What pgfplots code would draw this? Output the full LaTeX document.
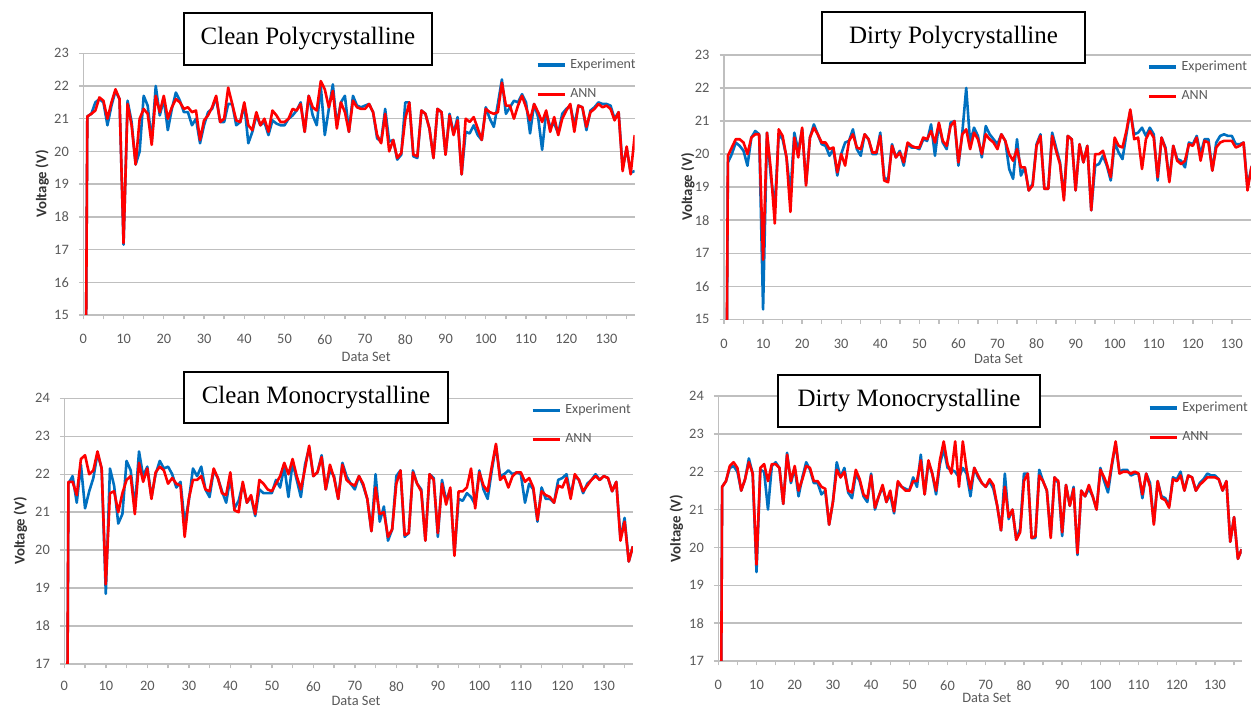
\documentclass[border=0pt]{standalone}
\usepackage{fontspec}
\setmainfont{Carlito}
\newfontfamily\titlefont{Liberation Serif}
\usepackage{pgfplots}
\usepackage{pgfplotstable}
\pgfplotsset{compat=1.18}

\definecolor{expc}{RGB}{0,112,192}
\definecolor{annc}{RGB}{255,0,0}
\definecolor{gridc}{RGB}{191,191,191}
\definecolor{tickc}{RGB}{89,89,89}

% clean polycrystalline
\pgfplotstableread{
x exp ann
0 0 0
1 21.07 21.07
2 21.15 21.15
3 21.5 21.25
4 21.6 21.65
5 21.5 21.55
6 20.8 21.0
7 21.4 21.5
8 21.85 21.9
9 21.6 21.6
10 17.15 17.2
11 21.55 21.45
12 20.9 20.8
13 19.6 19.6
14 20.0 21.0
15 21.7 21.3
16 21.4 21.15
17 20.3 20.2
18 22.0 21.7
19 21.1 21.2
20 21.6 21.7
21 20.65 21.0
22 21.3 21.35
23 21.8 21.6
24 21.55 21.5
25 21.2 21.3
26 21.2 21.35
27 20.8 21.2
28 21.0 21.25
29 20.25 20.35
30 20.8 20.95
31 21.2 21.1
32 21.3 21.35
33 21.65 21.7
34 20.9 20.9
35 20.9 21.0
36 21.45 21.95
37 21.45 21.45
38 20.8 20.95
39 20.9 20.9
40 21.45 21.5
41 20.25 20.8
42 20.6 20.65
43 21.1 21.2
44 20.8 20.8
45 20.9 21.0
46 20.5 20.6
47 20.95 21.25
48 20.85 21.1
49 20.8 20.9
50 20.8 20.9
51 21.0 21.0
52 21.1 21.3
53 21.25 21.25
54 21.5 21.45
55 20.6 20.6
56 21.7 21.7
57 21.1 21.35
58 20.8 21.25
59 22.0 22.15
60 20.5 21.9
61 21.3 21.35
62 22.05 21.85
63 20.8 20.7
64 21.5 21.5
65 21.7 21.2
66 20.6 20.6
67 21.7 21.55
68 21.4 21.35
69 21.35 21.3
70 21.4 21.3
71 21.45 21.45
72 21.2 21.2
73 20.4 20.5
74 20.3 20.25
75 21.3 21.15
76 20.3 20.0
77 20.35 20.35
78 19.75 19.8
79 19.9 19.95
80 21.5 21.0
81 21.5 21.5
82 19.85 19.9
83 19.8 19.85
84 21.25 21.25
85 21.15 21.15
86 20.7 20.7
87 19.8 19.8
88 21.3 21.3
89 21.2 21.2
90 19.9 19.9
91 21.15 21.1
92 20.55 20.5
93 21.05 20.95
94 19.3 19.3
95 20.6 21.0
96 20.55 20.9
97 20.8 21.05
98 20.5 20.7
99 20.35 20.35
100 21.35 21.3
101 21.0 21.2
102 20.75 21.15
103 21.45 21.2
104 22.2 22.1
105 21.15 21.4
106 21.35 21.4
107 21.55 21.0
108 21.5 21.4
109 21.75 21.7
110 21.5 21.35
111 20.55 20.95
112 21.45 21.45
113 21.05 21.2
114 20.05 20.9
115 21.2 21.25
116 20.75 20.6
117 20.85 21.05
118 20.55 20.5
119 21.15 21.0
120 21.3 21.25
121 21.4 21.45
122 20.8 20.6
123 21.4 21.4
124 21.35 21.35
125 20.65 20.75
126 21.25 21.2
127 21.35 21.3
128 21.5 21.45
129 21.45 21.35
130 21.45 21.4
131 21.4 21.3
132 21.0 20.95
133 21.2 21.2
134 19.5 19.4
135 20.1 20.15
136 19.35 19.3
137 19.4 20.5
}\cleanpoly

% dirty polycrystalline
\pgfplotstableread{
x exp ann
0 0 0
1 19.75 19.95
2 20.0 20.2
3 20.35 20.45
4 20.25 20.45
5 20.1 20.35
6 19.65 20.0
7 20.5 20.5
8 20.7 20.6
9 20.6 20.6
10 15.3 16.8
11 20.65 20.65
12 19.3 19.5
13 18.4 17.9
14 20.6 20.75
15 20.45 20.55
16 19.9 19.9
17 18.8 18.25
18 20.65 20.5
19 20.1 19.9
20 20.75 20.8
21 19.1 19.05
22 20.5 20.5
23 20.9 20.8
24 20.6 20.6
25 20.3 20.35
26 20.25 20.35
27 19.95 20.15
28 20.15 20.2
29 19.35 19.45
30 20.0 20.0
31 20.35 19.65
32 20.4 20.4
33 20.75 20.6
34 20.15 20.2
35 19.95 20.15
36 20.6 20.6
37 20.45 20.45
38 20.0 20.05
39 20.0 20.05
40 20.65 20.55
41 19.3 19.2
42 19.2 19.15
43 20.3 20.25
44 19.9 19.9
45 20.1 20.05
46 19.65 19.75
47 20.3 20.35
48 20.2 20.25
49 20.2 20.2
50 20.15 20.2
51 20.45 20.5
52 20.4 20.45
53 20.9 20.7
54 19.95 20.35
55 20.9 20.95
56 20.35 20.4
57 20.15 20.25
58 20.95 20.85
59 21.0 21.0
60 19.65 19.75
61 20.65 20.6
62 22.0 20.75
63 20.35 20.15
64 20.8 20.65
65 20.55 20.45
66 19.9 20.0
67 20.85 20.6
68 20.6 20.45
69 20.45 20.35
70 20.3 20.15
71 20.6 20.6
72 20.4 20.4
73 19.55 20.0
74 19.25 19.8
75 20.45 20.15
76 19.35 19.6
77 19.6 19.6
78 18.9 18.9
79 19.1 19.05
80 20.3 20.25
81 20.6 20.55
82 18.95 18.95
83 18.95 18.95
84 20.65 20.55
85 20.2 20.1
86 19.75 19.7
87 18.7 18.6
88 20.55 20.55
89 20.45 20.45
90 18.9 18.9
91 20.3 20.3
92 19.75 19.75
93 20.25 20.25
94 18.3 18.3
95 19.65 20.0
96 19.7 20.0
97 19.95 20.1
98 19.65 19.7
99 19.2 19.3
100 20.35 20.5
101 20.05 20.25
102 19.85 20.2
103 20.6 20.7
104 21.3 21.35
105 20.6 20.45
106 20.65 20.5
107 20.8 19.55
108 20.55 20.45
109 20.8 20.7
110 20.6 20.5
111 19.2 19.3
112 20.5 20.5
113 20.2 20.15
114 19.2 19.15
115 20.25 20.25
116 19.85 19.8
117 19.8 19.7
118 19.6 19.8
119 20.35 20.3
120 20.3 20.25
121 20.55 20.5
122 20.0 19.8
123 20.45 20.4
124 20.45 20.35
125 19.5 19.5
126 20.35 20.2
127 20.55 20.35
128 20.6 20.4
129 20.55 20.4
130 20.55 20.4
131 20.3 20.2
132 20.3 20.25
133 20.35 20.35
134 19.0 18.9
135 19.6 19.6
136 19.8 19.8
137 19.8 19.8
}\dirtypoly

% clean monocrystalline
\pgfplotstableread{
x exp ann
0 0 0
1 21.75 21.8
2 21.95 21.8
3 21.25 21.45
4 22.25 22.4
5 21.1 22.5
6 21.55 22.0
7 21.9 22.1
8 22.55 22.6
9 22.15 22.15
10 18.85 19.1
11 22.15 21.5
12 21.7 21.55
13 20.7 21.0
14 20.95 21.5
15 22.35 21.85
16 22.1 21.95
17 21.1 20.95
18 22.6 22.3
19 21.95 21.8
20 22.2 22.15
21 21.4 21.35
22 22.0 22.05
23 22.35 22.2
24 22.15 22.1
25 22.2 21.75
26 22.0 21.9
27 21.65 21.75
28 21.8 21.7
29 20.7 20.35
30 21.3 21.35
31 22.15 21.85
32 21.95 21.85
33 22.2 21.95
34 21.6 21.6
35 21.4 21.55
36 22.1 22.15
37 21.9 21.9
38 21.55 21.5
39 21.25 21.45
40 21.9 22.05
41 21.1 21.05
42 21.3 21.0
43 21.75 21.8
44 21.25 21.25
45 21.4 21.45
46 20.9 20.95
47 21.6 21.85
48 21.5 21.75
49 21.5 21.6
50 21.5 21.55
51 21.85 21.75
52 21.65 21.95
53 22.2 22.3
54 21.4 22.0
55 22.3 22.4
56 21.85 21.95
57 21.4 21.6
58 22.25 22.15
59 22.7 22.75
60 21.95 21.95
61 22.05 22.05
62 22.5 22.45
63 21.6 21.6
64 22.1 22.25
65 21.95 21.9
66 21.35 21.35
67 22.3 22.25
68 21.95 21.85
69 21.75 21.75
70 21.6 21.7
71 21.95 21.95
72 21.7 21.75
73 21.35 21.35
74 20.5 20.5
75 22.0 21.65
76 20.75 20.95
77 21.15 21.0
78 20.25 20.35
79 20.55 20.55
80 21.95 21.75
81 22.1 22.1
82 20.35 20.4
83 20.45 20.45
84 22.1 22.05
85 21.75 21.75
86 21.6 21.55
87 20.25 20.25
88 22.0 22.0
89 21.9 21.85
90 20.35 20.45
91 21.85 21.75
92 21.3 21.2
93 21.6 21.65
94 19.9 19.85
95 21.35 21.55
96 21.3 21.55
97 21.5 21.65
98 21.4 22.15
99 21.2 21.1
100 22.1 22.05
101 21.6 21.7
102 21.35 21.55
103 22.1 22.2
104 22.75 22.8
105 21.95 21.85
106 22.0 21.95
107 22.1 21.65
108 22.0 21.95
109 22.05 22.05
110 22.0 22.05
111 21.25 21.8
112 21.75 21.9
113 21.6 21.65
114 20.75 20.8
115 21.65 21.55
116 21.35 21.45
117 21.35 21.4
118 21.25 21.25
119 21.85 21.7
120 21.9 21.65
121 22.0 21.9
122 21.45 21.35
123 21.95 22.0
124 21.85 21.85
125 21.5 21.55
126 21.75 21.7
127 21.85 21.85
128 22.0 21.95
129 21.85 21.85
130 21.95 21.95
131 21.9 21.9
132 21.55 21.55
133 21.8 21.8
134 20.3 20.25
135 20.85 20.75
136 19.7 19.7
137 20.1 20.1
}\cleanmono

% dirty monocrystalline
\pgfplotstableread{
x exp ann
0 0 0
1 21.6 21.6
2 21.75 21.75
3 22.1 22.15
4 22.15 22.25
5 22.0 22.1
6 21.5 21.5
7 21.8 21.8
8 22.35 22.25
9 21.95 21.95
10 19.35 19.55
11 22.05 22.1
12 22.0 22.2
13 21.0 21.75
14 22.15 22.2
15 22.25 22.2
16 22.1 22.1
17 21.15 21.15
18 22.5 22.45
19 21.7 21.75
20 22.1 22.15
21 21.35 21.5
22 21.85 21.8
23 22.25 22.15
24 22.05 22.1
25 21.7 21.75
26 21.7 21.75
27 21.4 21.6
28 21.5 21.55
29 20.6 20.6
30 21.2 21.2
31 22.25 22.05
32 21.85 21.85
33 22.1 22.0
34 21.45 21.5
35 21.3 21.45
36 21.95 22.05
37 21.75 21.8
38 21.35 21.4
39 21.2 21.3
40 21.95 21.9
41 21.0 21.05
42 21.35 21.35
43 21.6 21.65
44 21.2 21.2
45 21.4 21.5
46 20.9 20.95
47 21.7 21.75
48 21.6 21.6
49 21.55 21.5
50 21.5 21.5
51 21.85 21.75
52 21.6 21.75
53 22.45 22.3
54 21.4 21.4
55 22.25 22.3
56 21.95 21.95
57 21.4 21.5
58 22.2 22.3
59 22.6 22.8
60 22.1 22.2
61 22.05 21.95
62 22.0 22.8
63 21.85 21.6
64 22.1 22.8
65 21.95 22.05
66 21.35 21.55
67 22.1 22.1
68 21.85 21.9
69 21.7 21.7
70 21.6 21.6
71 21.75 21.8
72 21.55 21.65
73 21.1 21.1
74 20.45 20.45
75 21.95 21.6
76 20.75 20.8
77 21.0 21.0
78 20.2 20.2
79 20.5 20.4
80 21.95 21.75
81 21.95 21.95
82 20.25 20.25
83 20.25 20.3
84 22.05 21.9
85 21.75 21.75
86 21.5 21.5
87 20.3 20.25
88 21.85 21.85
89 21.7 21.75
90 20.3 20.4
91 21.65 21.65
92 21.1 21.1
93 21.6 21.55
94 19.8 19.85
95 21.5 21.5
96 21.35 21.35
97 21.55 21.65
98 21.35 21.35
99 21.0 21.0
100 22.1 22.05
101 21.75 21.85
102 21.45 21.6
103 22.15 22.2
104 22.75 22.8
105 22.0 21.95
106 22.05 22.0
107 22.05 22.0
108 21.9 21.95
109 21.95 22.0
110 21.95 21.95
111 21.3 21.4
112 21.95 21.95
113 21.7 21.6
114 20.65 20.6
115 21.75 21.75
116 21.35 21.3
117 21.3 21.25
118 21.1 21.05
119 21.85 21.8
120 21.8 21.75
121 22.0 21.9
122 21.5 21.5
123 21.9 21.9
124 21.85 21.85
125 21.5 21.5
126 21.7 21.65
127 21.8 21.75
128 21.95 21.85
129 21.9 21.85
130 21.9 21.85
131 21.8 21.8
132 21.5 21.5
133 21.75 21.75
134 20.15 20.15
135 20.8 20.8
136 19.7 19.7
137 19.95 19.95
}\dirtymono

\pgfplotsset{
  panel/.style={
    scale only axis,
    anchor=south west,
    axis x line*=bottom, axis y line*=left,
    axis line style={draw=gridc, line width=0.7pt, -},
    x axis line style={-}, y axis line style={-},
    xmin=0, xmax=137,
    xtick={0,10,...,130}, minor xtick={5,15,...,135},
    ymajorgrids, major grid style={draw=gridc, line width=0.7pt},
    tick align=outside, major tick length=2.2pt, minor tick length=2.2pt,
    tick style={draw=gridc, line width=0.7pt},
    /pgf/number format/assume math mode=true,
    tick label style={font=\fontsize{7.2}{8}\selectfont, text=tickc},
    yticklabel style={xshift=-1.5pt},
    xticklabel style={yshift=-4pt},
    ylabel={\textbf{Voltage (V)}},
    ylabel style={at={(axis description cs:0,0.5)}, anchor=center, font=\fontsize{7.4}{8}\selectfont, text=black!80},
    xlabel={Data Set},
    xlabel style={at={(axis description cs:0.513,0)}, anchor=center, font=\fontsize{7.2}{8}\selectfont, text=tickc},
    legend style={at={(0.82,0.90)}, anchor=west, draw=none, fill=none,
      font=\fontsize{7}{8}\selectfont, text=tickc, row sep=4.5pt,
      cells={anchor=west}, inner sep=0pt},
    legend image code/.code={\draw[#1, line width=1.7pt] (0pt,0pt) -- (13.5pt,0pt);},
    every axis plot/.append style={line width=1.3pt, mark=none, line join=round},
  },
}
\tikzset{
  titlebox/.style={draw=black, line width=0.8pt, fill=white,
    font=\titlefont\fontsize{12.5}{14}\selectfont, inner sep=0pt},
}

\begin{document}
\begin{tikzpicture}

\begin{axis}[panel, at={(41.65pt,195.5pt)}, width=275.7pt, height=130.85pt,
  ymin=15, ymax=23, ytick={15,16,...,23},
  ylabel style={yshift=20.6pt}, xlabel style={yshift=-21pt}]
  \addplot[expc] table[x=x, y=exp] {\cleanpoly};
  \addlegendentry{Experiment}
  \addplot[annc] table[x=x, y=ann] {\cleanpoly};
  \addlegendentry{ANN}
\end{axis}

\begin{axis}[panel, at={(362pt,193.35pt)}, width=267.6pt, height=132.15pt,
  ymin=15, ymax=23, ytick={15,16,...,23},
  ylabel style={yshift=18pt}, xlabel style={yshift=-20pt},
  legend style={at={(0.79,0.90)}}]
  \addplot[expc] table[x=x, y=exp] {\dirtypoly};
  \addlegendentry{Experiment}
  \addplot[annc] table[x=x, y=ann] {\dirtypoly};
  \addlegendentry{ANN}
\end{axis}

\begin{axis}[panel, at={(32.15pt,21pt)}, width=284.3pt, height=132.85pt,
  ymin=17, ymax=24, ytick={17,18,...,24},
  xticklabel style={yshift=1pt},
  ylabel style={yshift=22pt}, xlabel style={yshift=-18.2pt}]
  \addplot[expc] table[x=x, y=exp] {\cleanmono};
  \addlegendentry{Experiment}
  \addplot[annc] table[x=x, y=ann] {\cleanmono};
  \addlegendentry{ANN}
\end{axis}

\begin{axis}[panel, at={(359.15pt,22.5pt)}, width=261.7pt, height=132.5pt,
  ymin=17, ymax=24, ytick={17,18,...,24},
  ylabel style={yshift=21pt}, xlabel style={yshift=-18.5pt}]
  \addplot[expc] table[x=x, y=exp] {\dirtymono};
  \addlegendentry{Experiment}
  \addplot[annc] table[x=x, y=ann] {\dirtymono};
  \addlegendentry{ANN}
\end{axis}

\node[titlebox, minimum width=124pt, minimum height=26pt] at (154pt,333.5pt) {Clean Polycrystalline};
\node[titlebox, minimum width=131.5pt, minimum height=25.5pt] at (476.75pt,334.25pt) {Dirty Polycrystalline};
\node[titlebox, minimum width=132pt, minimum height=25.5pt] at (158pt,154.25pt) {Clean Monocrystalline};
\node[titlebox, minimum width=131pt, minimum height=26pt] at (454.5pt,152.5pt) {Dirty Monocrystalline};

\pgfresetboundingbox
\path[use as bounding box] (0,0) rectangle (625.5pt,353pt);
\end{tikzpicture}
\end{document}
